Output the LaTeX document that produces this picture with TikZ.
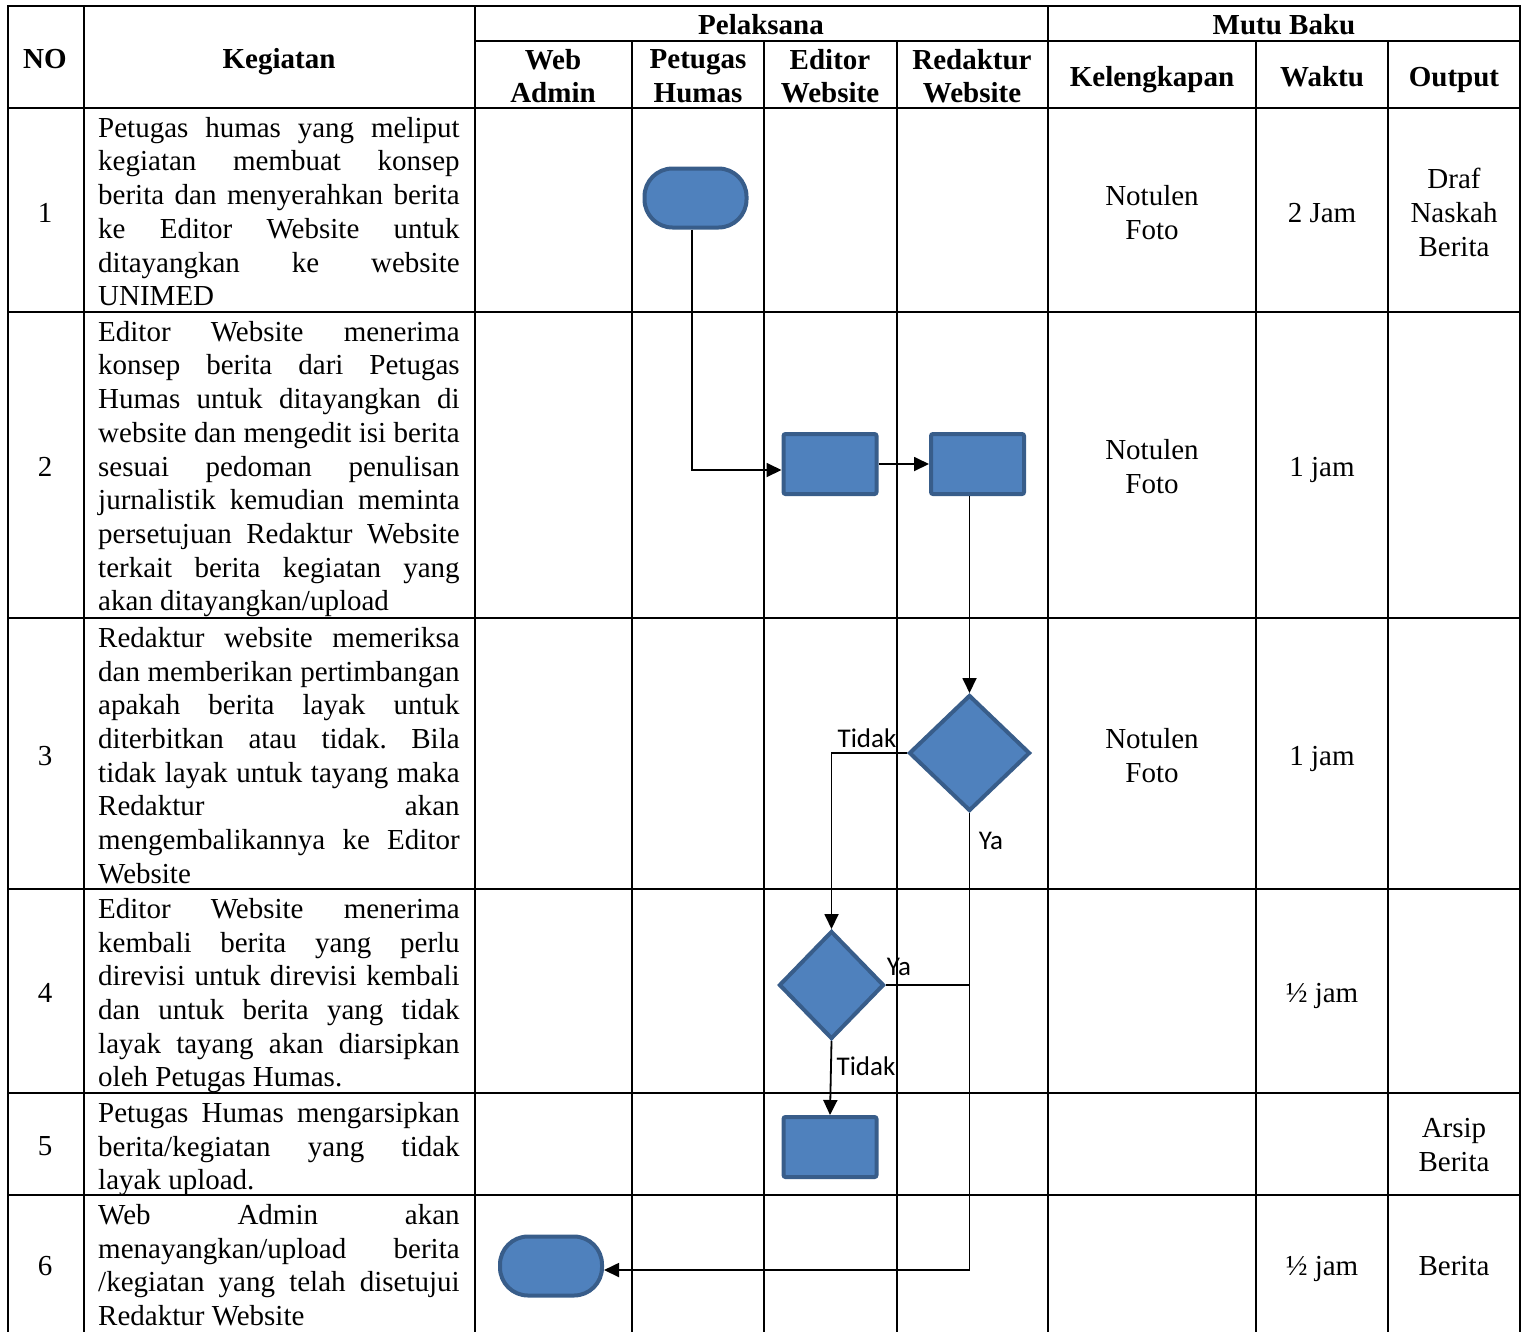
\documentclass[tikz,border=0pt]{standalone}
\usepackage{fontspec}
\setmainfont{Liberation Serif}
\newfontfamily\lblfont{Carlito}
\usetikzlibrary{arrows.meta,shapes.geometric}
\definecolor{boxfill}{RGB}{79,129,189}
\definecolor{boxline}{RGB}{56,93,138}
\newcommand{\tabfont}{\fontsize{29}{33.7}\selectfont}
\newcommand{\kegfont}{\tabfont\frenchspacing\tolerance=10000\relax\hbadness=10000\relax\hyphenpenalty=10000\relax}
\tikzset{
  garis/.style={line width=2.5pt,line cap=rect},
  cell/.style={align=center,inner sep=0pt,font=\tabfont,
    execute at begin node=\strut,execute at end node=\strut},
  head/.style={cell,font=\tabfont\bfseries},
  kegiatan/.style={anchor=north west,inner sep=0pt,text width=361.5pt,align=justify,
    font=\kegfont,execute at begin node=\strut},
  terminal/.style={rectangle,draw=boxline,fill=boxfill,line width=4pt,rounded corners=28pt,
    minimum width=102pt,minimum height=59pt,inner sep=0pt},
  proses/.style={rectangle,draw=boxline,fill=boxfill,line width=4pt,rounded corners=2pt,
    minimum width=93pt,minimum height=60pt,inner sep=0pt},
  keputusan/.style={diamond,draw=boxline,fill=boxfill,line width=4pt,inner sep=0pt},
  alur/.style={line width=1.8pt},
  flowlbl/.style={font=\lblfont\fontsize{27}{30}\selectfont,inner sep=0pt}
}
\begin{document}
\begin{tikzpicture}[x=1pt,y=-1pt,>={Triangle[length=15pt,width=14pt]}]
\useasboundingbox (0,0) rectangle (1525,1331);
% table lines
\draw[garis](8,6)--(1520,6);
\draw[garis](475,41)--(1520,41);
\draw[garis](8,108)--(1520,108);
\draw[garis](8,312)--(1520,312);
\draw[garis](8,618)--(1520,618);
\draw[garis](8,889)--(1520,889);
\draw[garis](8,1093)--(1520,1093);
\draw[garis](8,1195)--(1520,1195);
\draw[garis](8,6)--(8,1331);
\draw[garis](84,6)--(84,1331); %NO
\draw[garis](475,6)--(475,1331); %Kegiatan
\draw[garis](632,41)--(632,1331);
\draw[garis](764,41)--(764,1331);
\draw[garis](897,41)--(897,1331);
\draw[garis](1048,6)--(1048,1331);
\draw[garis](1256,41)--(1256,1331);
\draw[garis](1388,41)--(1388,1331);
\draw[garis](1520,6)--(1520,1331);
% header
\node[head] (hNo) at (45,61.5){NO};
\node[head] (hKeg) at (279,61.5){Kegiatan};
\node[head] (hPel) at (761,27.5){Pelaksana};
\node[head] (hMutu) at (1284,27.5){Mutu Baku};
\node[head] (hWeb) at (553,81){Web\\Admin};
\node[head] (hHumas) at (698,81){Petugas\\Humas};
\node[head] (hEditor) at (830,81){Editor\\Website};
\node[head] (hRedaktur) at (972,81){Redaktur\\Website};
\node[head] (hLengkap) at (1152,79.5){Kelengkapan};
\node[head] (hWaktu) at (1322,79.5){Waktu};
\node[head] (hOutput) at (1454,79.5){Output};
% nomor
\node[cell] (no1) at (45,215.5){1};
\node[cell] (no2) at (45,469.5){2};
\node[cell] (no3) at (45,758.5){3};
\node[cell] (no4) at (45,995.5){4};
\node[cell] (no5) at (45,1148.5){5};
\node[cell] (no6) at (45,1268.5){6};
% kegiatan
\node[kegiatan] (keg1) at (98,113.5){Petugas humas yang meliput\linebreak
kegiatan membuat konsep\linebreak berita dan menyerahkan berita\linebreak
ke Editor Website untuk\linebreak ditayangkan ke website\linebreak UNIMED};
\node[kegiatan] (keg2) at (98,317.5){Editor Website menerima\linebreak
konsep berita dari Petugas\linebreak Humas untuk ditayangkan di\linebreak
website dan mengedit isi berita\linebreak sesuai pedoman penulisan\linebreak
jurnalistik kemudian meminta\linebreak persetujuan Redaktur Website\linebreak
terkait berita kegiatan yang\linebreak akan ditayangkan/upload};
\node[kegiatan] (keg3) at (98,623.5){Redaktur website memeriksa\linebreak
dan memberikan pertimbangan\linebreak apakah berita layak untuk\linebreak
diterbitkan atau tidak. Bila\linebreak tidak layak untuk tayang maka\linebreak
Redaktur akan\linebreak mengembalikannya ke Editor\linebreak Website};
\node[kegiatan] (keg4) at (98,894.5){Editor Website menerima\linebreak
kembali berita yang perlu\linebreak direvisi untuk direvisi kembali\linebreak
dan untuk berita yang tidak\linebreak layak tayang akan diarsipkan\linebreak
oleh Petugas Humas.};
\node[kegiatan] (keg5) at (98,1098.5){Petugas Humas mengarsipkan\linebreak
berita/kegiatan yang tidak\linebreak layak upload.};
\node[kegiatan] (keg6) at (98,1200.5){Web Admin akan\linebreak
menayangkan/upload berita\linebreak /kegiatan yang telah disetujui\linebreak
Redaktur Website};
% mutu baku
\node[cell] (lengkap1) at (1152,217.5){Notulen\\Foto};
\node[cell] (lengkap2) at (1152,471.5){Notulen\\Foto};
\node[cell] (lengkap3) at (1152,760.5){Notulen\\Foto};
\node[cell] (waktu1) at (1322,215.5){2 Jam};
\node[cell] (waktu2) at (1322,469.5){1 jam};
\node[cell] (waktu3) at (1322,758.5){1 jam};
\node[cell] (waktu4) at (1322,995.5){½ jam};
\node[cell] (waktu6) at (1322,1268.5){½ jam};
\node[cell] (output1) at (1454,217.5){Draf\\Naskah\\Berita};
\node[cell] (output5) at (1454,1150){Arsip\\Berita};
\node[cell] (output6) at (1454,1268.5){Berita};
% flow shapes
\node[terminal] (mulai) at (695.5,198){};
\node[proses] (edit) at (830,464){};
\node[proses] (redaksi) at (977.5,464){};
\node[keputusan,minimum width=121pt,minimum height=116pt] (cek) at (969.5,753){};
\node[keputusan,minimum width=105pt,minimum height=108pt] (revisi) at (831.5,985){};
\node[proses] (arsip) at (830,1147){};
\node[terminal] (tayang) at (551,1266){};
% connectors
\draw[alur,->]([xshift=-3.5pt]mulai.south)|-([yshift=-6pt]edit.west);
\draw[alur,->](edit.east)--(redaksi.west);
\draw[alur,->](cek.north|-redaksi.south)--(cek.north);
\draw[alur,->](cek.west)-|(revisi.north); %tidak
\draw[alur,->](cek.south)|-([yshift=-4pt]tayang.east); %ya
\draw[alur](revisi.east)--(revisi.east-|cek.south); %ya
\draw[alur,->](revisi.south)--(arsip.north); %tidak
\node[flowlbl] (tidak1) at (867,738){Tidak};
\node[flowlbl] (ya1) at (991,841){Ya};
\node[flowlbl] (ya2) at (899,967){Ya};
\node[flowlbl] (tidak2) at (866,1066){Tidak};
\end{tikzpicture}
\end{document}
